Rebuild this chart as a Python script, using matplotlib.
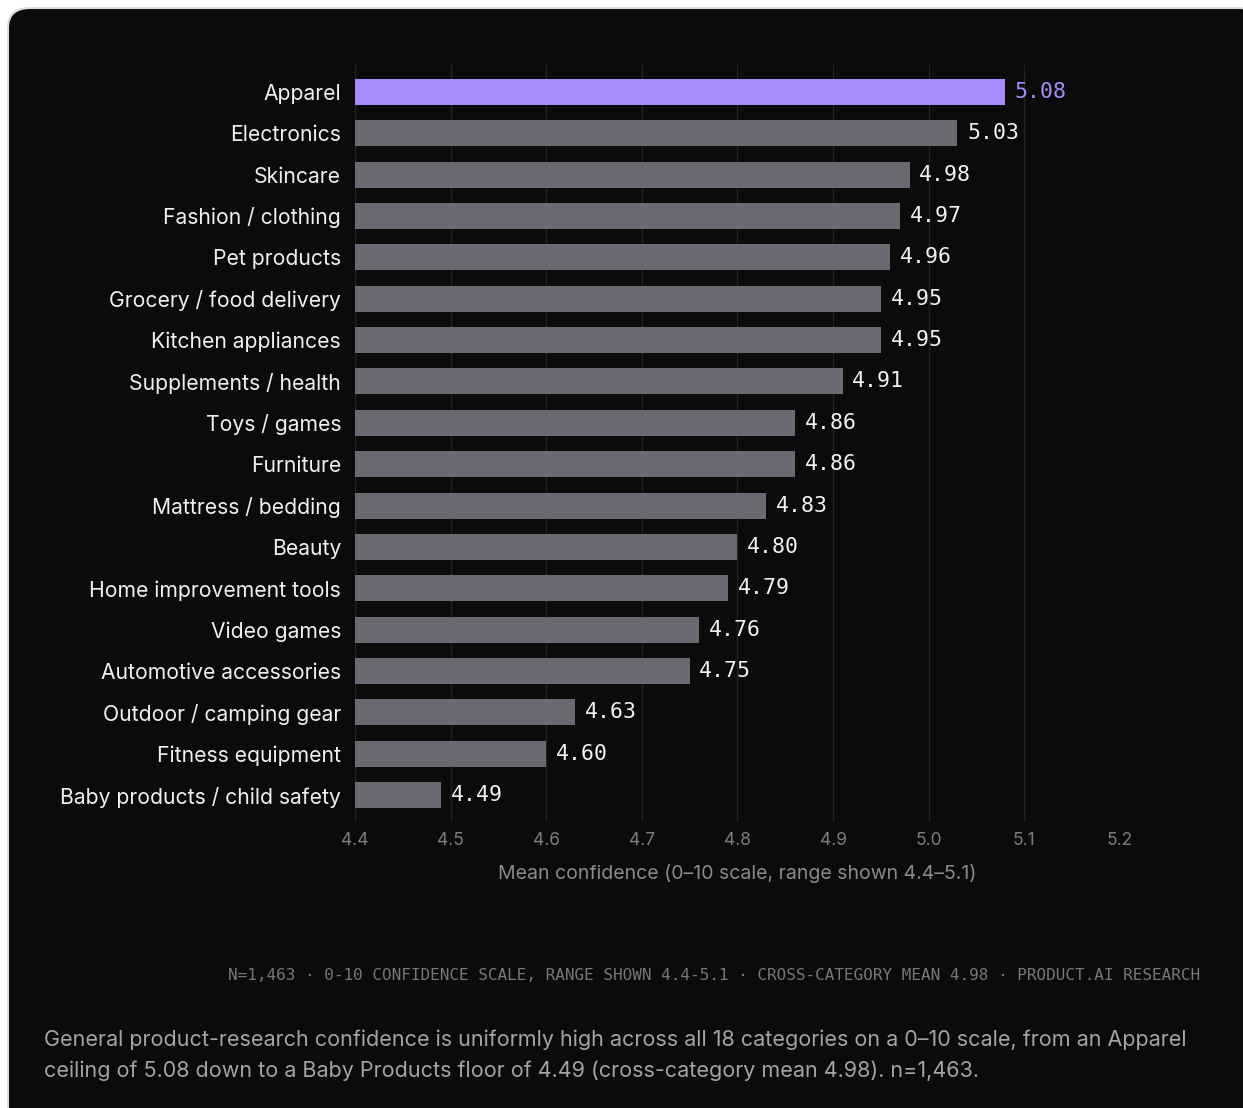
import matplotlib.pyplot as plt
from matplotlib.patches import FancyBboxPatch

# Mean confidence per product category (0-10 scale)
categories = [
    'Apparel', 'Electronics', 'Skincare', 'Fashion / clothing', 'Pet products',
    'Grocery / food delivery', 'Kitchen appliances', 'Supplements / health',
    'Toys / games', 'Furniture', 'Mattress / bedding', 'Beauty',
    'Home improvement tools', 'Video games', 'Automotive accessories',
    'Outdoor / camping gear', 'Fitness equipment', 'Baby products / child safety',
]
scores = [5.08, 5.03, 4.98, 4.97, 4.96, 4.95, 4.95, 4.91, 4.86, 4.86,
          4.83, 4.80, 4.79, 4.76, 4.75, 4.63, 4.60, 4.49]
x_ticks = [4.4, 4.5, 4.6, 4.7, 4.8, 4.9, 5.0, 5.1, 5.2]
x_min = 4.4

BG = '#0b0b0b'
GREY_BAR = '#6b6a73'
PURPLE = '#a78bfa'
SANS = ['Inter', 'DejaVu Sans']
MONO = ['DejaVu Sans Mono']

W, H = 1243, 1108
fig = plt.figure(figsize=(W / 100, H / 100), dpi=100)
fig.patch.set_facecolor('white')

# dark card behind everything
card = FancyBboxPatch((8 / W, -20 / H), (W + 10) / W, (H - 8 + 20) / H,
                      boxstyle='round,pad=0,rounding_size=0.018',
                      transform=fig.transFigure, facecolor=BG,
                      edgecolor='#dcdcdc', linewidth=1.5, zorder=-5)
fig.patches.append(card)

ax = fig.add_axes([355 / W, 1 - 822 / H, (1120 - 355) / W, (822 - 65) / H])
ax.set_zorder(2)
ax.patch.set_alpha(0)

y = list(range(len(categories)))
colors = [PURPLE if i == 0 else GREY_BAR for i in y]
widths = [s - x_min for s in scores]
ax.barh(y, widths, left=x_min, height=0.63, color=colors, zorder=3)

for i, s in enumerate(scores):
    ax.text(s + 0.01, i, f'{s:.2f}', va='center', ha='left',
            fontsize=15.5, family=MONO,
            color=PURPLE if i == 0 else '#f2f2f2', zorder=4)

ax.set_xlim(4.4, 5.2)
ax.set_ylim(len(categories) - 0.35, -0.65)
ax.set_xticks(x_ticks)
ax.set_xticklabels([f'{t:.1f}' for t in x_ticks], family=SANS)
ax.set_yticks(y)
ax.set_yticklabels(categories, family=SANS)
ax.tick_params(axis='y', length=0, pad=10, labelsize=15.2, labelcolor='#f0f0f0')
ax.tick_params(axis='x', length=0, pad=7, labelsize=12.5, labelcolor='#7d7d82')
ax.grid(axis='x', color='#222224', linewidth=1, zorder=0)
ax.set_axisbelow(True)
for sp in ax.spines.values():
    sp.set_visible(False)

ax.set_xlabel('Mean confidence (0–10 scale, range shown 4.4–5.1)',
              family=SANS, fontsize=14, color='#8a8a8f', labelpad=11)

fig.text(1200 / W, 1 - 975 / H,
         'N=1,463 · 0-10 CONFIDENCE SCALE, RANGE SHOWN 4.4-5.1 · '
         'CROSS-CATEGORY MEAN 4.98 · PRODUCT.AI RESEARCH',
         ha='right', va='center', family=MONO, fontsize=11.5, color='#77777c')

fig.text(44 / W, 1 - 1040 / H,
         'General product-research confidence is uniformly high across all 18 '
         'categories on a 0–10 scale, from an Apparel',
         ha='left', va='center', family=SANS, fontsize=15.5, color='#a3a3a8')
fig.text(44 / W, 1 - 1071 / H,
         'ceiling of 5.08 down to a Baby Products floor of 4.49 '
         '(cross-category mean 4.98). n=1,463.',
         ha='left', va='center', family=SANS, fontsize=15.5, color='#a3a3a8')

fig.savefig('out.png', dpi=100, facecolor=fig.get_facecolor())
